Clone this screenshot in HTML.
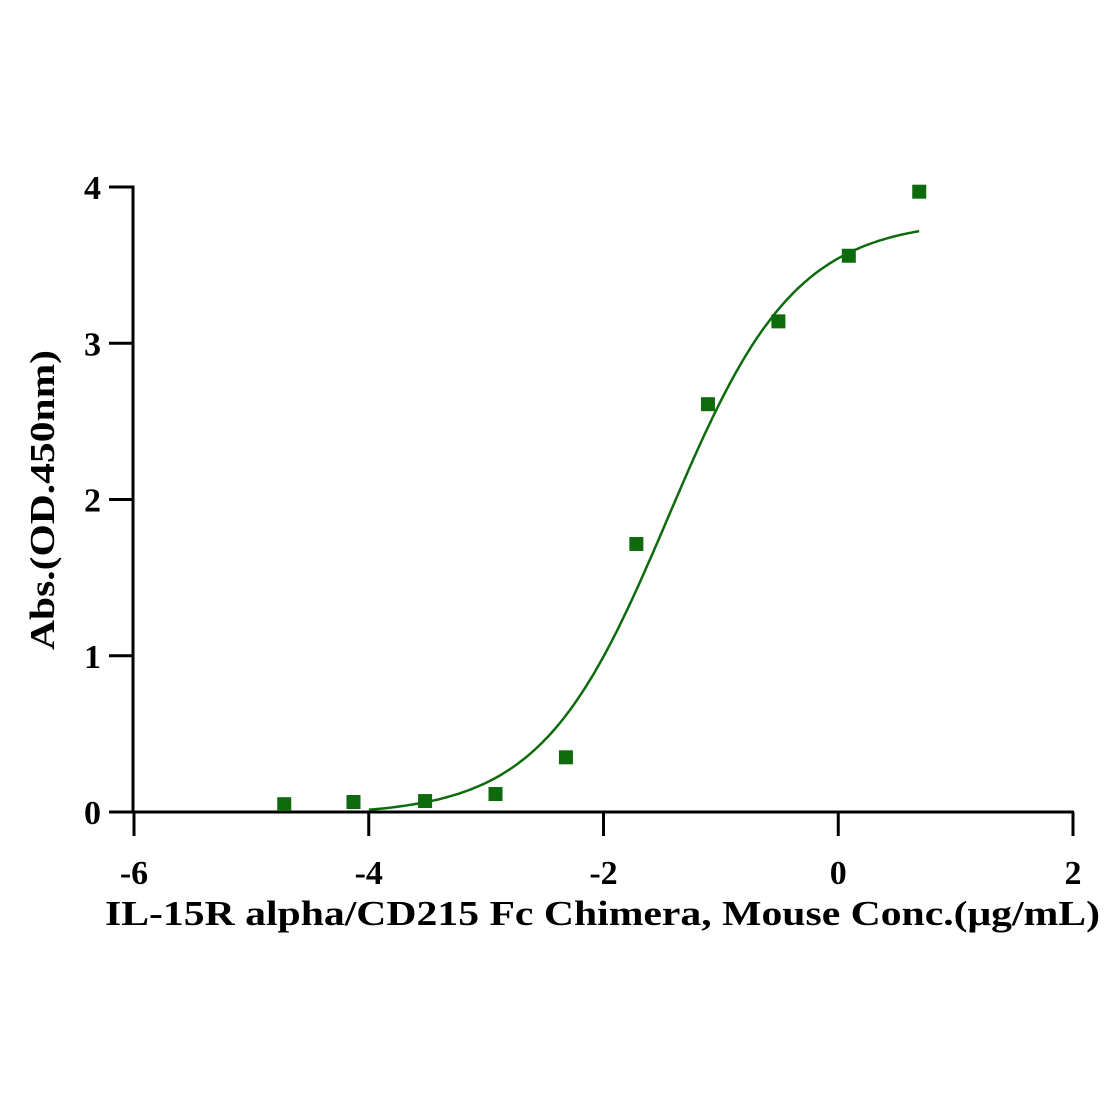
<!DOCTYPE html>
<html><head><meta charset="utf-8"><style>
html,body{margin:0;padding:0;background:#fff;}
svg{display:block;}
text{font-family:"Liberation Serif",serif;font-weight:bold;fill:#000;}
</style></head><body>
<svg id="chart" width="1112" height="1112" viewBox="0 0 1112 1112" xmlns="http://www.w3.org/2000/svg">
<g id="axes"></g>
<g id="curve"></g>
<g id="points"></g>
<text x="105" y="925" font-size="35" textLength="995" lengthAdjust="spacingAndGlyphs">IL-15R alpha/CD215 Fc Chimera, Mouse Conc.(μg/mL)</text>
<text transform="translate(54,650) rotate(-90)" font-size="35" textLength="300" lengthAdjust="spacingAndGlyphs">Abs.(OD.450nm)</text>
</svg>
<script>
const xData = [-4.72, -4.13, -3.52, -2.92, -2.32, -1.72, -1.11, -0.51, 0.09, 0.69];
const yData = [0.05, 0.064, 0.07, 0.115, 0.35, 1.715, 2.61, 3.14, 3.56, 3.97];
const xTicks = [-6, -4, -2, 0, 2];
const yTicks = [0, 1, 2, 3, 4];
const fitParams = [-0.02, 3.79, -1.45, 0.8]; // bottom, top, logEC50, hill
const fitRange = [-4.0, 0.69];

const NS = "http://www.w3.org/2000/svg";
function sx(v){ return 134 + (v + 6) * (1073 - 134) / 8; }
function sy(v){ return 812 - v * (812 - 187) / 4; }
function mk(tag, attrs, parent){
  const e = document.createElementNS(NS, tag);
  for (const k in attrs) e.setAttribute(k, attrs[k]);
  parent.appendChild(e); return e;
}
const axesG = document.getElementById('axes');
let ln = mk('line', {x1:133, y1:sy(4)-1.5, x2:133, y2:sy(0)+1.5, stroke:'#000','stroke-width':3}, axesG);


ln = mk('line', {x1:133, y1:812, x2:1074, y2:812, stroke:'#000','stroke-width':3}, axesG);


xTicks.forEach(t => {
  const tk = mk('line', {x1:sx(t), y1:812, x2:sx(t), y2:836, stroke:'#000','stroke-width':3}, axesG);
  
  
  const tx = mk('text', {x:sx(t), y:884, 'font-size':34, 'text-anchor':'middle'}, axesG);
  
  
  tx.textContent = t;
});
yTicks.forEach(t => {
  const tk = mk('line', {x1:109, y1:sy(t), x2:133, y2:sy(t), stroke:'#000','stroke-width':3}, axesG);
  
  
  const tx = mk('text', {x:101, y:sy(t)+12, 'font-size':34, 'text-anchor':'end'}, axesG);
  
  
  tx.textContent = t;
});
const bot = fitParams[0], topVal = fitParams[1], ec = fitParams[2], hill = fitParams[3];
let d = '';
for (let i = 0; i <= 200; i++) {
  const x = fitRange[0] + (fitRange[1] - fitRange[0]) * i / 200;
  let y = bot + (topVal - bot) / (1 + Math.pow(10, (ec - x) * hill));
  if (y < 0) y = 0;
  d += (i ? 'L' : 'M') + sx(x).toFixed(1) + ',' + sy(y).toFixed(1);
}
const path = mk('path', {d:d, fill:'none', stroke:'#0d6b0d', 'stroke-width':2.5}, document.getElementById('curve'));


const pts = document.getElementById('points');
xData.forEach((x, i) => {
  const r = mk('rect', {x:sx(x)-7, y:sy(yData[i])-7, width:14, height:14, fill:'#0d6b0d'}, pts);
  
  
});
</script>
</body></html>
